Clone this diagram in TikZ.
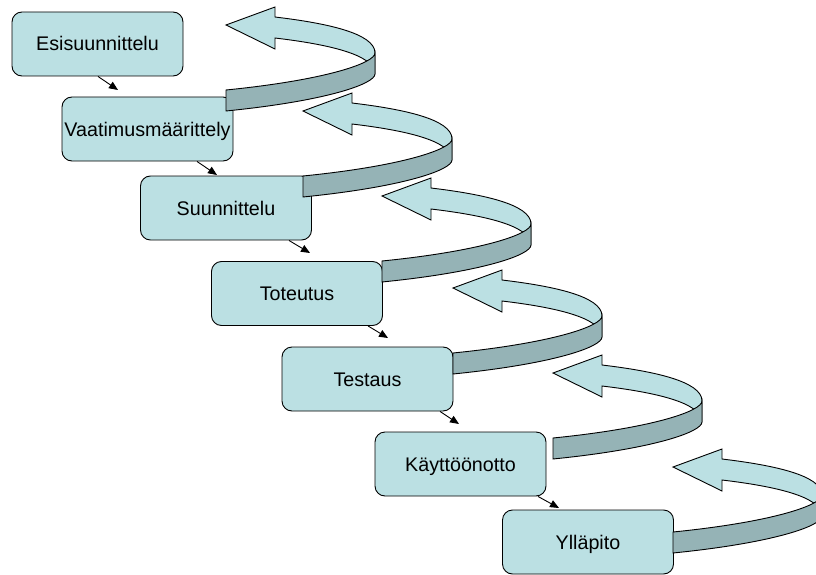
\documentclass[tikz,border=0pt]{standalone}
\usepackage{fontspec}
\setmainfont{Liberation Sans}
\usetikzlibrary{arrows.meta}

\definecolor{stagefill}{RGB}{187,224,227}
\definecolor{ribbonback}{RGB}{149,179,182}

\tikzset{
  stage/.style={draw=black, line width=0.9pt, fill=stagefill, rounded corners=10pt,
    minimum width=171pt, minimum height=64pt, inner sep=0pt,
    text height=14pt, text depth=0pt,
    font=\fontsize{19.7}{23}\selectfont},
  link/.style={draw=black, line width=0.9pt, -{Triangle[length=9pt,width=7.5pt]}},
  ribbon/.style={draw=black, line width=0.9pt, line join=miter},
  % a looping feedback arrow: light upper half with head, dark lower half in front
  pics/loopback/.style={code={
    \draw[ribbon, fill=stagefill]
      (149,28) .. controls (149,8) and (99,-2) .. (49,-8)
      -- (49,-18) -- (0,0) -- (49,24) -- (49,13)
      .. controls (99,19) and (149,29) .. (149,49) -- cycle;
    \draw[ribbon, fill=ribbonback]
      (0,65) .. controls (100,55) and (149,38) .. (149,28)
      -- (149,49) .. controls (149,59) and (100,76) .. (0,86) -- cycle;
  }}
}

\begin{document}
\begin{tikzpicture}[x=1pt, y=-1pt]
\useasboundingbox (0,0) rectangle (816,575);
\clip (0,0) rectangle (816,575);

% process stages
\node[stage] (b1) at (97.5,44)  {Esisuunnittelu};
\node[stage] (b2) at (147.5,129) {Vaatimusmäärittely};
\node[stage] (b3) at (226,208)  {Suunnittelu};
\node[stage] (b4) at (297,293.5) {Toteutus};
\node[stage] (b5) at (367.5,379) {Testaus};
\node[stage] (b6) at (460.5,464) {Käyttöönotto};
\node[stage] (b7) at (588,542)  {Ylläpito};

% ends of the step arrows
\coordinate (e1) at (118,90);
\coordinate (e2) at (217,175);
\coordinate (e3) at (310,253);
\coordinate (e4) at (388,338);
\coordinate (e5) at (459,424);
\coordinate (e6) at (559,508);

\draw[link] ([xshift=0.5pt]b1.south) -- (e1);
\draw[link] ([xshift=49.5pt]b2.south) -- (e2);
\draw[link] ([xshift=63pt]b3.south) -- (e3);
\draw[link] ([xshift=71pt]b4.south) -- (e4);
\draw[link] ([xshift=72.5pt]b5.south) -- (e5);
\draw[link] ([xshift=77.5pt]b6.south) -- (e6);

% feedback loops, lowest first so upper ones lie on top
\pic at (673,467) {loopback};
\pic at (553,373) {loopback};
\pic at (453,288) {loopback};
\pic at (382,196) {loopback};
\pic at (303,111) {loopback};
\pic at (226,25)  {loopback};
\end{tikzpicture}
\end{document}
